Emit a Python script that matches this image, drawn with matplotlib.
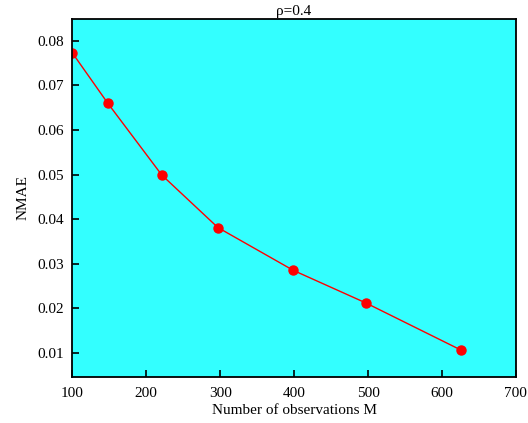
import matplotlib
matplotlib.use('Agg')
import matplotlib.pyplot as plt

observations = [100, 148, 221, 297, 399, 497, 626]
nmae = [0.0773, 0.0660, 0.0499, 0.0381, 0.0285, 0.0212, 0.0106]

plt.rcParams['font.family'] = ['Liberation Serif', 'DejaVu Serif']
plt.rcParams['font.size'] = 11

fig, ax = plt.subplots(figsize=(5.28, 4.23), dpi=100)
fig.subplots_adjust(left=0.137, right=0.977, top=0.955, bottom=0.109)

ax.set_facecolor('#33ffff')
ax.plot(observations, nmae, color='red', marker='o', markersize=6.5, linewidth=1)

ax.set_xlim(100, 700)
ax.set_ylim(0.0046, 0.0849)
ax.set_xticks([100, 200, 300, 400, 500, 600, 700])
ax.set_yticks([0.01, 0.02, 0.03, 0.04, 0.05, 0.06, 0.07, 0.08])
ax.tick_params(direction='in', length=5, width=1.2, top=False, right=False)
ax.tick_params(axis='x', pad=7)
ax.tick_params(axis='y', pad=6)

for s in ax.spines.values():
    s.set_linewidth(1.3)

ax.set_xlabel('Number of observations M', labelpad=3)
ax.set_ylabel('NMAE', labelpad=6)
ax.set_title('ρ=0.4', fontsize=11, pad=3)

fig.savefig('out.png', dpi=100)
